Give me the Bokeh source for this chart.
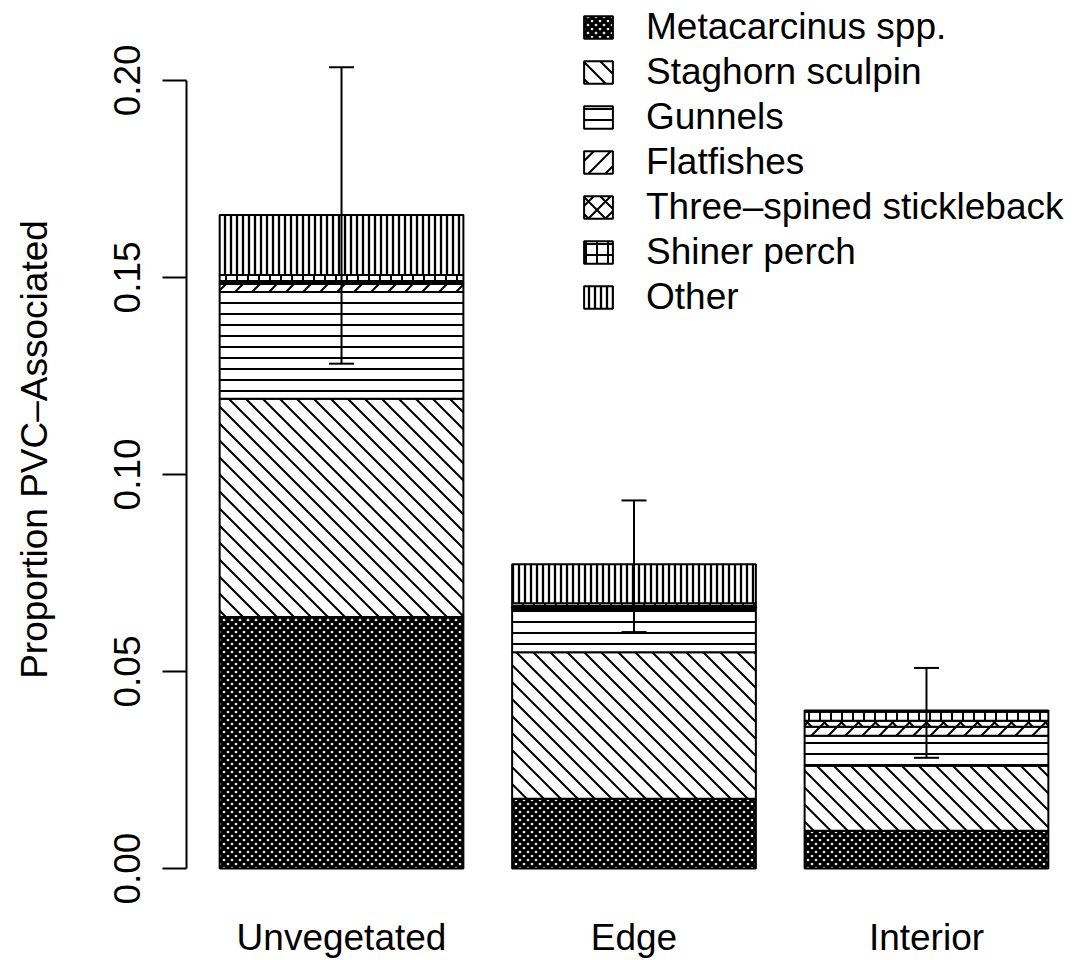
import base64
from bokeh.plotting import figure
from bokeh.models import (Range1d, FixedTicker, LinearAxis, Whisker, TeeHead,
                          ColumnDataSource, Legend, LegendItem, ImageURLTexture)
from bokeh.core.properties import value
from bokeh.embed import file_html
from bokeh.resources import INLINE

# ---------------- data ----------------
habitats = ["Unvegetated", "Edge", "Interior"]
taxa = ["Metacarcinus spp.", "Staghorn sculpin", "Gunnels", "Flatfishes",
        "Three\u2013spined stickleback", "Shiner perch", "Other"]
metacarcinus = [0.0638, 0.0177, 0.0096]
staghorn = [0.0554, 0.0372, 0.0165]
gunnels = [0.0271, 0.0109, 0.0076]
flatfishes = [0.0020, 0.0005, 0.0023]
stickleback = [0.0003, 0.0003, 0.0015]
shiner = [0.0020, 0.0007, 0.0023]
other = [0.0152, 0.0099, 0.0003]
ci_lower = [0.1281, 0.0600, 0.0281]
ci_upper = [0.2033, 0.0934, 0.0509]
y_ticks = [0.0, 0.05, 0.10, 0.15, 0.20]
y_tick_labels = ["0.00", "0.05", "0.10", "0.15", "0.20"]

series = [metacarcinus, staghorn, gunnels, flatfishes, stickleback, shiner, other]


# ---------------- hatch textures (R-style shading lines, as small SVG tiles) ----------------
def tile(s, w, kinds):
    m = round(s / 2)
    d = []
    if "back" in kinds:
        d.append(f"M-3,-3L{s+3},{s+3}M-3,{s-3}L3,{s+3}M{s-3},-3L{s+3},3")
    if "fwd" in kinds:
        d.append(f"M-3,{s+3}L{s+3},-3M-3,3L3,-3M{s-3},{s+3}L{s+3},{s-3}")
    if "hor" in kinds:
        d.append(f"M-1,{m}L{s+1},{m}")
    if "ver" in kinds:
        d.append(f"M{m},-1L{m},{s+1}")
    svg = (f'<svg xmlns="http://www.w3.org/2000/svg" width="{s}" height="{s}" '
           f'viewBox="0 0 {s} {s}"><path d="{"".join(d)}" stroke="black" '
           f'stroke-width="{w}" fill="none"/></svg>')
    url = "data:image/svg+xml;base64," + base64.b64encode(svg.encode()).decode()
    return ImageURLTexture(url=url, repetition="repeat")


pattern_specs = [
    ("meta", 8, 3.4, ("back", "fwd")),
    ("stag", 17, 2.0, ("back",)),
    ("gunn", 11, 2.0, ("hor",)),
    ("flat", 17, 2.0, ("fwd",)),
    ("stick", 17, 2.0, ("back", "fwd")),
    ("shin", 11, 2.0, ("hor", "ver")),
    ("oth", 6, 2.3, ("ver",)),
]

FONT = "Liberation Sans"
FS = "37px"

# bar positions as in a base-R barplot (width 1, space 0.2)
xs = [0.7 + 1.2 * i for i in range(len(habitats))]

p = figure(width=1081, height=960, output_backend="svg", toolbar_location=None,
           x_range=Range1d(0.064, 3.736), y_range=Range1d(-0.0076, 0.22025),
           x_axis_type=None, y_axis_type=None,
           min_border_left=186, min_border_right=0, min_border_top=0,
           min_border_bottom=60)
p.outline_line_color = None
p.background_fill_color = "white"

bottoms = [0.0] * len(habitats)
items = []
for name, vals, (key, s, w, kinds) in zip(taxa, series, pattern_specs):
    tops = [b + v for b, v in zip(bottoms, vals)]
    src = ColumnDataSource(dict(x=xs, bottom=bottoms, top=tops))
    r = p.vbar(x="x", bottom="bottom", top="top", width=1.0, source=src,
               fill_color="white", line_color="black", line_width=2,
               hatch_pattern=value(key), hatch_color="black",
               hatch_extra={key: tile(s, w, kinds)})
    items.append(LegendItem(label=name, renderers=[r]))
    bottoms = tops

# error bars
esrc = ColumnDataSource(dict(x=xs, lower=ci_lower, upper=ci_upper))
wh = Whisker(source=esrc, base="x", lower="lower", upper="upper",
             line_color="black", line_width=2, level="annotation",
             upper_head=TeeHead(size=25, line_width=2, line_color="black"),
             lower_head=TeeHead(size=25, line_width=2, line_color="black"))
p.add_layout(wh)

# y axis
yax = LinearAxis(ticker=FixedTicker(ticks=y_ticks),
                 major_label_overrides={t: l for t, l in zip(y_ticks, y_tick_labels)},
                 bounds=(0, 0.2), axis_label="Proportion PVC\u2013Associated")
yax.axis_line_width = 2
yax.axis_line_color = "black"
yax.major_tick_line_width = 2
yax.major_tick_line_color = "black"
yax.major_tick_out = 24
yax.major_tick_in = 0
yax.minor_tick_line_color = None
yax.major_label_orientation = "parallel"
yax.major_label_standoff = 22
yax.major_label_text_font = FONT
yax.major_label_text_font_size = FS
yax.major_label_text_color = "black"
yax.axis_label_text_font = FONT
yax.axis_label_text_font_size = FS
yax.axis_label_text_font_style = "normal"
yax.axis_label_text_color = "black"
yax.axis_label_standoff = 57
p.add_layout(yax, "left")

# x axis (labels only)
xax = LinearAxis(ticker=FixedTicker(ticks=xs),
                 major_label_overrides={x: h for x, h in zip(xs, habitats)})
xax.axis_line_color = None
xax.major_tick_line_color = None
xax.minor_tick_line_color = None
xax.major_tick_out = 0
xax.major_tick_in = 0
xax.major_label_standoff = 18
xax.major_label_text_font = FONT
xax.major_label_text_font_size = FS
xax.major_label_text_color = "black"
p.add_layout(xax, "below")

legend = Legend(items=items, location=(394, 579), padding=0, margin=0,
                spacing=0, glyph_width=36, glyph_height=28, label_height=45,
                label_standoff=30, label_text_font=FONT, label_text_font_size=FS,
                label_text_color="black", border_line_color=None,
                background_fill_alpha=0)
p.add_layout(legend)

open("out.html", "w").write(file_html(p, INLINE))
